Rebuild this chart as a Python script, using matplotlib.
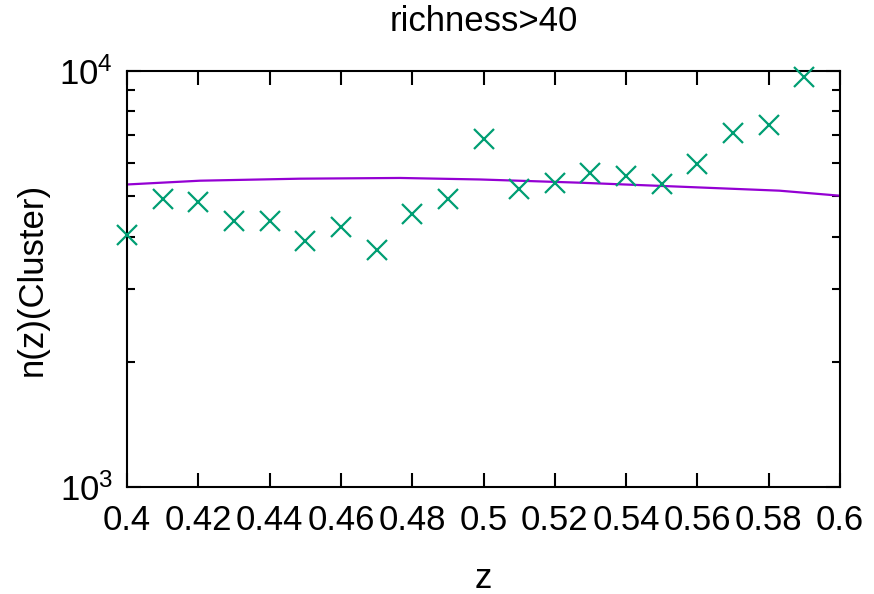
import matplotlib
matplotlib.use('Agg')
import matplotlib.pyplot as plt
from matplotlib.ticker import FixedLocator, NullFormatter

### Data ###

z_points = [0.40, 0.41, 0.42, 0.43, 0.44, 0.45, 0.46, 0.47, 0.48, 0.49,
            0.50, 0.51, 0.52, 0.53, 0.54, 0.55, 0.56, 0.57, 0.58, 0.59]
n_points = [4035, 4925, 4840, 4357, 4357, 3903, 4217, 3714, 4530, 4925,
            6863, 5202, 5380, 5687, 5593, 5349, 5977, 7095, 7415, 9674]

# model curve, read at a few z values
z_model = [0.40, 0.4205, 0.4485, 0.4766, 0.499, 0.527, 0.555, 0.583, 0.60]
n_model = [5336, 5449, 5510, 5532, 5486, 5389, 5272, 5156, 5014]

x_ticks = [0.40, 0.42, 0.44, 0.46, 0.48, 0.50, 0.52, 0.54, 0.56, 0.58, 0.60]
x_tick_labels = ['0.4', '0.42', '0.44', '0.46', '0.48', '0.5',
                 '0.52', '0.54', '0.56', '0.58', '0.6']
y_major = [1e3, 1e4]
y_major_labels = [r'$\mathregular{10^3}$', r'$\mathregular{10^4}$']
y_minor = [2000, 3000, 4000, 5000, 6000, 7000, 8000, 9000]

plt.rcParams['font.family'] = ['Liberation Sans', 'DejaVu Sans']
plt.rcParams['font.size'] = 25

fig = plt.figure(figsize=(8.74, 5.94), dpi=100)
ax = fig.add_axes([127 / 874, 1 - 487 / 594, 713 / 874, 416 / 594])

ax.plot(z_model, n_model, color='#9400d3', lw=1.6, zorder=2)
ax.plot(z_points, n_points, ls='none', marker='x', ms=14, mew=1.6,
        color='#009e73', clip_on=False, zorder=3)

ax.set_yscale('log')
ax.set_xlim(0.4, 0.6)
ax.set_ylim(1e3, 1e4)

ax.xaxis.set_major_locator(FixedLocator(x_ticks))
ax.set_xticklabels(x_tick_labels)
ax.yaxis.set_major_locator(FixedLocator(y_major))
ax.set_yticklabels(y_major_labels)
ax.yaxis.set_minor_locator(FixedLocator(y_minor))
ax.yaxis.set_minor_formatter(NullFormatter())
ax.xaxis.set_minor_locator(FixedLocator([]))

ax.tick_params(which='both', direction='in', top=True, right=True,
               width=1.5, color='black')
ax.tick_params(which='major', length=10, pad=10)
ax.tick_params(axis='x', which='major', pad=12)
ax.tick_params(which='minor', length=5.5)
for s in ax.spines.values():
    s.set_linewidth(1.5)

ax.set_title('richness>40', fontsize=25, pad=29)
ax.set_xlabel('z', labelpad=18)
ax.set_ylabel('n(z)(Cluster)', labelpad=8)

fig.savefig('out.png', dpi=100)
